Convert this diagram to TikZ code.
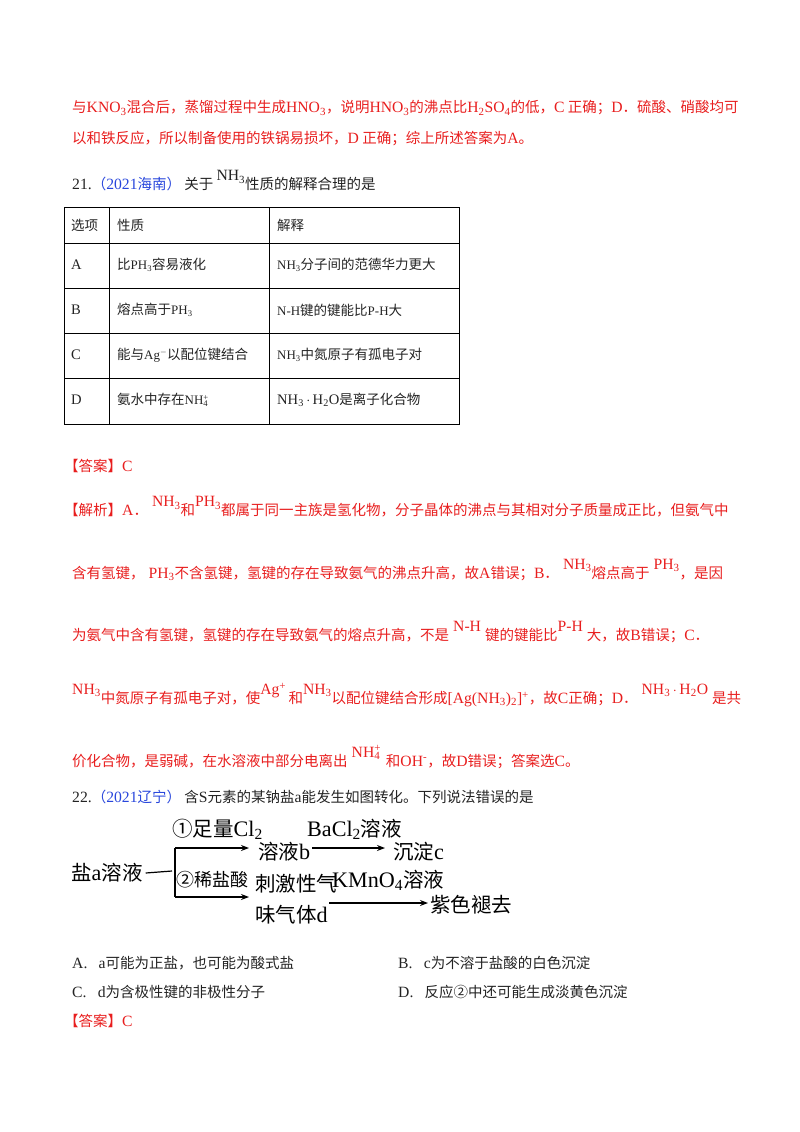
\documentclass[tikz,border=0pt]{standalone}
\usepackage{fontspec}
\setmainfont{Noto Sans CJK SC}
\newfontfamily\tm[Scale=1.08]{Liberation Serif}
\usetikzlibrary{arrows.meta}
\definecolor{ansred}{RGB}{232,30,30}
\definecolor{srcblue}{RGB}{40,70,220}
\definecolor{txt}{RGB}{35,35,35}
\newcommand{\F}[1]{{\tm #1}}
\newcommand{\sbs}[1]{\textsubscript{#1}}
\newcommand{\up}[1]{\raisebox{9pt}{\tm #1}}
\newcommand{\nhf}{NH\rlap{\textsuperscript{+}}\textsubscript{4}}
\tikzset{
 t/.style={anchor=west,inner sep=0pt,font=\fontsize{14.5}{14.5}\selectfont,text=txt},
 tc/.style={t,font=\fontsize{13.5}{13.5}\selectfont},
 r/.style={t,text=ansred},
 big/.style={anchor=west,inner sep=0pt,font=\fontsize{20.5}{20.5}\selectfont,text=black},
 arr/.style={-{Stealth[length=8pt,width=6pt]},line width=1.2pt},
 ln/.style={line width=1.2pt},
 tab/.style={line width=1pt}
}
\begin{document}
\begin{tikzpicture}[x=1pt,y=-1pt]
\useasboundingbox (0,0) rectangle (800,1132);
% top paragraph
\node[r] (l1) at (72,108) {与\F{KNO\sbs{3}}混合后，蒸馏过程中生成\F{HNO\sbs{3}}，说明\F{HNO\sbs{3}}的沸点比\F{H\sbs{2}SO\sbs{4}}的低，\F{C} 正确；\F{D}．硫酸、硝酸均可};
\node[r] (l2) at (72,139) {以和铁反应，所以制备使用的铁锅易损坏，\F{D} 正确；综上所述答案为\F{A}。};
\node[t] (q21) at (72,181) {\F{21.}\textcolor{srcblue}{（\F{2021}海南）} 关于 \up{NH\sbs{3}}性质的解释合理的是};
% table
\draw[tab] (64,207) rectangle (459,424);
\foreach \yy in {243,288,333,378} \draw[tab] (64,\yy) -- (459,\yy);
\draw[tab] (109,207) -- (109,424);
\draw[tab] (269,207) -- (269,424);
\node[tc] (h1) at (71,225) {选项};
\node[tc] (h2) at (117,225) {性质};
\node[tc] (h3) at (277,225) {解释};
\node[tc] (a1) at (71,265) {\F{A}};
\node[tc] (a2) at (117,265) {比\F{\large PH\sbs{3}}容易液化};
\node[tc] (a3) at (277,265) {\F{\large NH\sbs{3}}分子间的范德华力更大};
\node[tc] (b1) at (71,310) {\F{B}};
\node[tc] (b2) at (117,310) {熔点高于\F{\large PH\sbs{3}}};
\node[tc] (b3) at (277,310) {\F{\large N-H}键的键能比\F{\large P-H}大};
\node[tc] (c1) at (71,355) {\F{C}};
\node[tc] (c2) at (117,355) {能与\F{\large Ag\textsuperscript{$-$}}以配位键结合};
\node[tc] (c3) at (277,355) {\F{\large NH\sbs{3}}中氮原子有孤电子对};
\node[tc] (d1) at (71,400) {\F{D}};
\node[tc] (d2) at (117,400) {氨水中存在\F{\large \nhf}};
\node[tc] (d3) at (277,400) {\F{NH\sbs{3}\,$\cdot$\,H\sbs{2}O}是离子化合物};
% answer & analysis
\node[r] (ans) at (64,466) {【答案】\F{C}};
\node[r] (e1) at (64,507) {【解析】\F{A}．\;\up{NH\sbs{3}}和\up{PH\sbs{3}}都属于同一主族是氢化物，分子晶体的沸点与其相对分子质量成正比，但氨气中};
\node[r] (e2) at (72,570) {含有氢键，\;\F{PH\sbs{3}}不含氢键，氢键的存在导致氨气的沸点升高，故\F{A}错误；\F{B}．\;\up{NH\sbs{3}}熔点高于\;\up{PH\sbs{3}}，是因};
\node[r] (e3) at (72,632) {为氨气中含有氢键，氢键的存在导致氨气的熔点升高，不是\;\up{N-H}\;键的键能比\up{P-H}\;大，故\F{B}错误；\F{C}．};
\node[r] (e4) at (72,695) {\up{NH\sbs{3}}中氮原子有孤电子对，使\up{Ag\textsuperscript{+}}\,和\up{NH\sbs{3}}以配位键结合形成\F{[Ag(NH\sbs{3})\sbs{2}]\textsuperscript{+}}，故\F{C}正确；\F{D}．\;\up{NH\sbs{3}\,$\cdot$\,H\sbs{2}O}\;是共};
\node[r] (e5) at (72,757) {价化合物，是弱碱，在水溶液中部分电离出\;\up{\nhf}\, 和\F{OH\textsuperscript{-}}，故\F{D}错误；答案选\F{C}。};
% question 22
\node[t] (q22) at (72,797) {\F{22.}\textcolor{srcblue}{（\F{2021}辽宁）} 含\F{S}元素的某钠盐\F{a}能发生如图转化。下列说法错误的是};
% diagram
\node[big] (salt) at (71,873) {盐\F{a}溶液};
\coordinate (j) at (172,871);
\coordinate (jt) at (175,848);
\coordinate (jb) at (175,897);
\draw[ln] (salt.east) ++(3pt,0) -- (j);
\draw[ln] (jt) -- (jb);
\node[big] (b) at (258,852) {溶液\F{b}};
\node[big] (c) at (393,852) {沉淀\F{c}};
\node[big] (g1) at (255,884) {刺激性气};
\node[big] (g2) at (255,915) {味气体\F{d}};
\node[big] (p) at (430,905) {紫色褪去};
\draw[arr] (jt) -- ([xshift=-9pt]b.west |- jt);
\draw[arr] (jb) -- ([xshift=-6pt]g1.west |- jb);
\draw[arr] ([xshift=2pt]b.east |- jt) -- ([xshift=-8pt]c.west |- jt);
\coordinate (k) at (329,903);
\draw[arr] (k) -- ([xshift=-2pt]p.west |- k);
\node[big] (l1a) at (172,829) {①足量\F{Cl\sbs{2}}};
\node[big] (l2a) at (307,829) {\F{BaCl\sbs{2}}溶液};
\node[big,font=\fontsize{18}{18}\selectfont] (l3a) at (176,880) {②稀盐酸};
\node[big] (l4a) at (332,880) {\F{KMnO\sbs{4}}溶液};
% options
\node[t] (oa) at (72,963) {\F{A.}\;\; \F{a}可能为正盐，也可能为酸式盐};
\node[t] (ob) at (398,963) {\F{B.}\;\; \F{c}为不溶于盐酸的白色沉淀};
\node[t] (oc) at (72,992) {\F{C.}\;\; \F{d}为含极性键的非极性分子};
\node[t] (od) at (398,992) {\F{D.}\;\; 反应②中还可能生成淡黄色沉淀};
\node[r] (ans2) at (64,1021) {【答案】\F{C}};
\end{tikzpicture}
\end{document}
